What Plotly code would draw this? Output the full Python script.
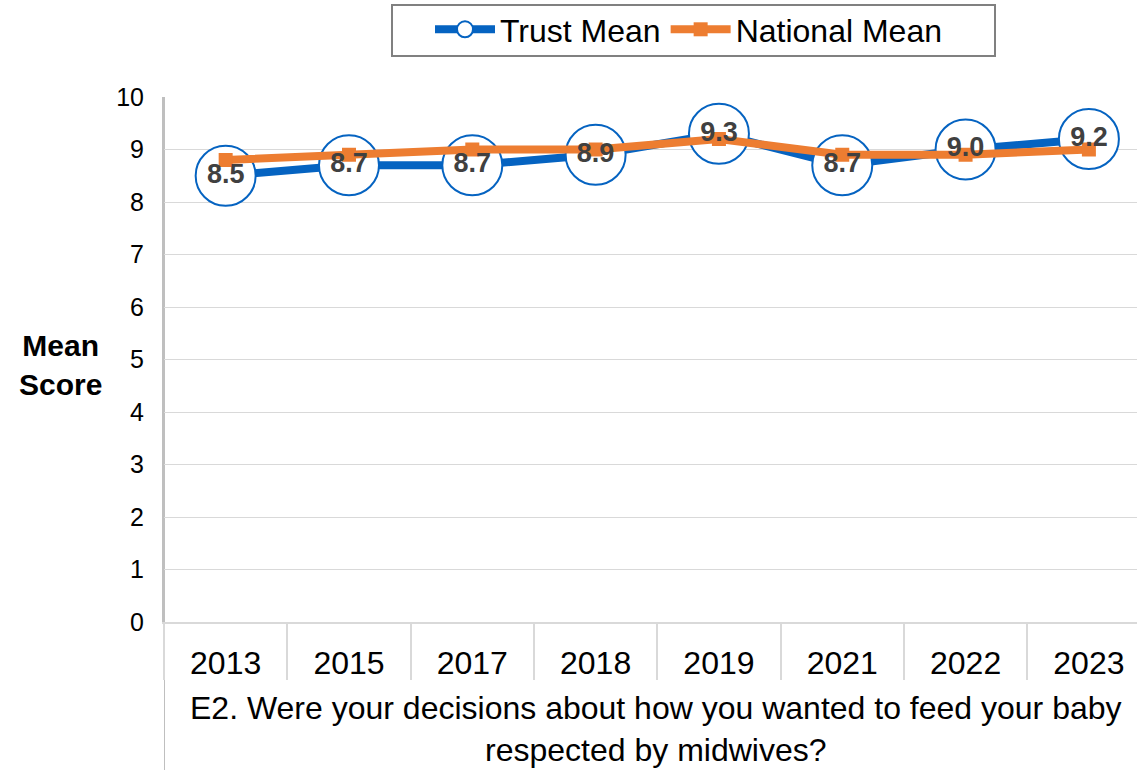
import plotly.graph_objects as go

years = ["2013", "2015", "2017", "2018", "2019", "2021", "2022", "2023"]
trust_mean = [8.5, 8.7, 8.7, 8.9, 9.3, 8.7, 9.0, 9.2]
national_mean = [8.8, 8.9, 9.0, 9.0, 9.2, 8.9, 8.9, 9.0]
trust_labels = [f"{v:.1f}" for v in trust_mean]

BLUE = "#0563C1"
ORANGE = "#ED7D31"
FONT = "Liberation Sans, Arial, sans-serif"

W, H = 1137, 770
ML, MR, MT, MB = 164, 0, 97, 148
PW, PH = W - ML - MR, H - MT - MB


def px_to_paper(px, py):
    """Convert page pixel position to paper coordinates."""
    return (px - ML) / PW, (H - MB - py) / PH


fig = go.Figure()

# Trust series: thick blue line with large hollow circle markers
fig.add_trace(go.Scatter(
    x=years, y=trust_mean, mode="lines+markers",
    line=dict(color=BLUE, width=8),
    marker=dict(symbol="circle", size=60, color="white",
                line=dict(color=BLUE, width=2)),
    showlegend=False, cliponaxis=False, hoverinfo="skip",
))

# National series: orange line with square markers
fig.add_trace(go.Scatter(
    x=years, y=national_mean, mode="lines+markers",
    line=dict(color=ORANGE, width=8),
    marker=dict(symbol="square", size=14, color=ORANGE),
    showlegend=False, cliponaxis=False, hoverinfo="skip",
))

# Value labels for the trust series, drawn on top
fig.add_trace(go.Scatter(
    x=years, y=trust_mean, mode="text", text=trust_labels,
    textposition="middle center",
    textfont=dict(family=FONT, size=27, color="#404040", weight="bold"),
    showlegend=False, cliponaxis=False, hoverinfo="skip",
))

# Legend entries
fig.add_trace(go.Scatter(
    x=[None], y=[None], mode="lines+markers", name="Trust Mean",
    line=dict(color=BLUE, width=8),
    marker=dict(symbol="circle", size=19, color="white",
                line=dict(color=BLUE, width=2)),
))
fig.add_trace(go.Scatter(
    x=[None], y=[None], mode="lines+markers", name="National Mean",
    line=dict(color=ORANGE, width=8),
    marker=dict(symbol="square", size=14, color=ORANGE),
))

# Frame around the legend
bx0, by0 = px_to_paper(392, 56)
bx1, by1 = px_to_paper(995, 5)
fig.add_shape(type="rect", xref="paper", yref="paper",
              x0=bx0, x1=bx1, y0=by0, y1=by1,
              line=dict(color="#808080", width=2), fillcolor="rgba(0,0,0,0)")

# Left border extending down through the category label area
fig.add_shape(type="line", xref="x", yref="paper",
              x0=-0.5, x1=-0.5, y0=-0.3, y1=1,
              line=dict(color="#bfbfbf", width=2), layer="below")

ax, ay = px_to_paper(60, 365)
fig.add_annotation(
    text="<b>Mean<br>Score</b>", xref="paper", yref="paper",
    x=ax, y=ay, xanchor="center", yanchor="middle",
    showarrow=False, align="center",
    font=dict(family=FONT, size=30, color="black"),
)

tx, ty = px_to_paper(656, 770)
fig.add_annotation(
    text="E2. Were your decisions about how you wanted to feed your baby<br>respected by midwives?",
    xref="paper", yref="paper",
    x=tx, y=ty, xanchor="center", yanchor="bottom",
    showarrow=False, align="center",
    font=dict(family=FONT, size=32, color="black"),
)

fig.update_layout(
    width=W, height=H,
    margin=dict(l=ML, r=MR, t=MT, b=MB),
    paper_bgcolor="white", plot_bgcolor="white",
    font=dict(family=FONT, color="black"),
    legend=dict(
        orientation="h", xref="container", yref="container",
        x=430 / W, y=1 - 2 / H, xanchor="left", yanchor="top",
        borderwidth=0, bgcolor="rgba(0,0,0,0)",
        font=dict(family=FONT, size=32, color="black"),
        itemwidth=60,
    ),
    xaxis=dict(
        type="category", range=[-0.5, 7.39],
        showgrid=False, showline=True, linecolor="#d9d9d9", linewidth=2,
        ticks="outside", tickson="boundaries", ticklen=56,
        tickcolor="#d9d9d9", tickwidth=2,
        ticklabelstandoff=12,
        tickfont=dict(family=FONT, size=32, color="black"),
        fixedrange=True,
    ),
    yaxis=dict(
        range=[0, 10], dtick=1, tick0=0,
        showgrid=True, gridcolor="#d9d9d9", gridwidth=1,
        showline=True, linecolor="#bfbfbf", linewidth=2,
        zeroline=False, ticks="",
        ticklabelstandoff=13,
        tickfont=dict(family=FONT, size=25, color="black"),
        fixedrange=True,
    ),
)

fig.write_html("out.html")
